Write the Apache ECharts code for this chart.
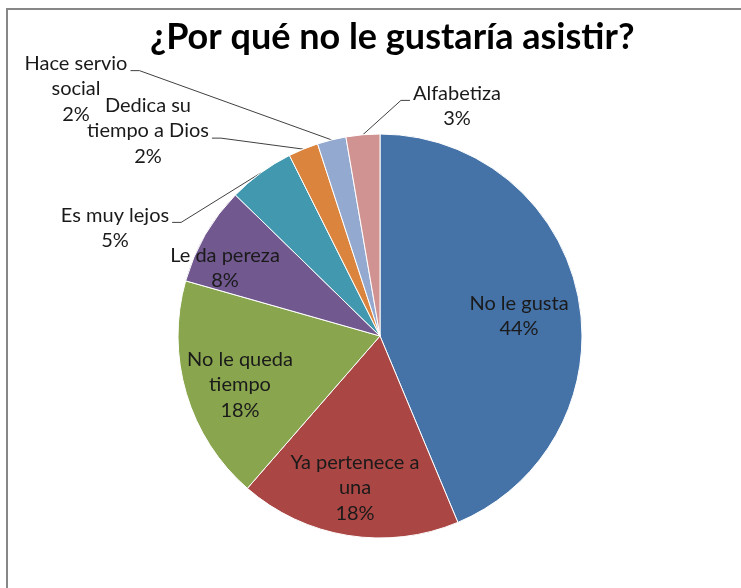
<!DOCTYPE html>
<html><head><meta charset="utf-8">
<script src="https://cdn.jsdelivr.net/npm/echarts@6/dist/echarts.min.js"></script>
<style>html,body{margin:0;padding:0;background:#fff}#c{width:741px;height:588px}</style>
</head><body><div id="c"></div>
<script>
const categories = ["No le gusta", "Ya pertenece a\nuna", "No le queda\ntiempo", "Le da pereza", "Es muy lejos", "Dedica su\ntiempo a Dios", "Hace servio\nsocial", "Alfabetiza"];
const values = [43.7, 17.7, 18.0, 7.9, 5.3, 2.4, 2.3, 2.7];
const colors = ["#4572A7", "#AA4643", "#89A54E", "#71588F", "#4198AF", "#DB843D", "#93A9CF", "#D19392"];
const insideFlags = [true, true, true, true, false, false, false, false];

// label block centres (text placement only)
const labelAt = {
  0: [519, 316], 1: [355, 488], 2: [240, 385], 3: [225, 268],
  4: [115, 228], 5: [148, 131], 6: [76, 89], 7: [457, 106]
};
// which text line the leader line attaches to, and side (-1 left, 1 right of text)
const leaderAttach = { 4: [0, 1], 5: [1, 1], 6: [0, 1], 7: [0, -1] };

const LH = 25.5;
const chart = echarts.init(document.getElementById('c'));
const FONT = 'Lato';
const labelStyle = { fontFamily: FONT, fontSize: 20, color: '#1a1a1a', lineHeight: LH };
const fmt = p => p.name + '\n' + Math.round(p.value) + '%';

const baseData = categories.map((n, i) => ({
  name: n, value: values[i],
  itemStyle: { color: colors[i] },
  label: { show: !insideFlags[i] },
  labelLine: { show: !insideFlags[i] }
}));
const overlayData = categories.map((n, i) => ({
  name: n, value: values[i],
  label: { show: insideFlags[i] }
}));

function layoutFn(p) {
  const pos = labelAt[p.dataIndex];
  if (!pos) return {};
  const res = { x: pos[0], y: pos[1], align: 'center', verticalAlign: 'middle' };
  const att = leaderAttach[p.dataIndex];
  if (att && p.labelLinePoints) {
    const r = p.labelRect;
    const top = pos[1] - r.height / 2;
    const ly = top + LH * att[0] + LH * 0.78;
    const ex = pos[0] + att[1] * (r.width / 2 + 3);
    res.labelLinePoints = [p.labelLinePoints[0], [ex + att[1] * 9, ly], [ex, ly]];
  }
  return res;
}

chart.setOption({
  animation: false,
  title: {
    text: '¿Por qué no le gustaría asistir?', left: 145, top: 14,
    textStyle: { fontFamily: FONT, fontWeight: 'bold', fontSize: 36, color: '#000' }
  },
  graphic: [{ type: 'rect', shape: { x: 7, y: 9, width: 900, height: 800 }, style: { fill: 'none', stroke: '#878787', lineWidth: 2 }, silent: true }],
  series: [
    {
      type: 'pie', center: [380, 336], radius: [0, 202], startAngle: 90, clockwise: true,
      itemStyle: { borderColor: '#fff', borderWidth: 1 },
      label: Object.assign({ position: 'outside', formatter: fmt, align: 'center' }, labelStyle),
      labelLine: { length: 30, length2: 10, lineStyle: { color: '#404040', width: 1 } },
      labelLayout: layoutFn,
      data: baseData
    },
    {
      type: 'pie', center: [380, 336], radius: [80, 202], startAngle: 90, clockwise: true, silent: true,
      itemStyle: { color: 'rgba(0,0,0,0)' },
      label: Object.assign({ position: 'inside', formatter: fmt }, labelStyle),
      labelLine: { show: false },
      labelLayout: layoutFn,
      data: overlayData
    }
  ]
});
</script></body></html>
